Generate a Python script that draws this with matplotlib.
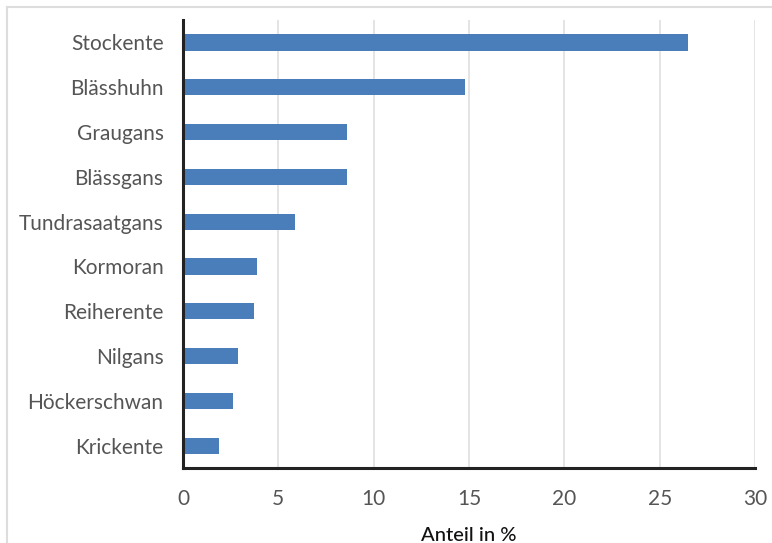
import matplotlib
matplotlib.use("Agg")
from matplotlib import pyplot as plt
from matplotlib.lines import Line2D

arten = ["Stockente", "Blässhuhn", "Graugans", "Blässgans", "Tundrasaatgans",
         "Kormoran", "Reiherente", "Nilgans", "Höckerschwan", "Krickente"]
anteil = [26.5, 14.8, 8.6, 8.6, 5.9, 3.9, 3.7, 2.9, 2.6, 1.9]
x_ticks = [0, 5, 10, 15, 20, 25, 30]

plt.rcParams["font.family"] = ["Lato", "DejaVu Sans"]

fig = plt.figure(figsize=(7.72, 5.43), dpi=100)
ax = fig.add_axes([0.237, 0.138, 0.741, 0.825])

pos = list(range(len(arten)))
ax.barh(pos, anteil, height=0.36, color="#4a7ebb", zorder=3)

ax.set_ylim(len(arten) - 0.5, -0.5)
ax.set_xlim(0, 30)
ax.set_xticks(x_ticks)
ax.set_yticks(pos)
ax.set_yticklabels(arten)

ax.grid(axis="x", color="#e4e4e4", linewidth=1.4, zorder=0)
ax.set_axisbelow(True)

for side in ["top", "right"]:
    ax.spines[side].set_visible(False)
for side in ["left", "bottom"]:
    ax.spines[side].set_color("#222222")
    ax.spines[side].set_linewidth(2.2)
    ax.spines[side].set_zorder(4)

ax.tick_params(axis="y", length=0, pad=14, labelsize=15, labelcolor="#555555")
ax.tick_params(axis="x", length=0, pad=15, labelsize=15, labelcolor="#555555")

ax.set_xlabel("Anteil in %", fontsize=14.5, color="#111111",
              fontweight="medium", labelpad=13)

# thin frame along top and left edge
fig.add_artist(Line2D([7 / 772, 1], [1 - 7 / 543, 1 - 7 / 543],
                      transform=fig.transFigure, color="#dddddd", linewidth=1.5))
fig.add_artist(Line2D([7 / 772, 7 / 772], [0, 1 - 7 / 543],
                      transform=fig.transFigure, color="#dddddd", linewidth=1.5))

fig.savefig("out.png", dpi=100)
